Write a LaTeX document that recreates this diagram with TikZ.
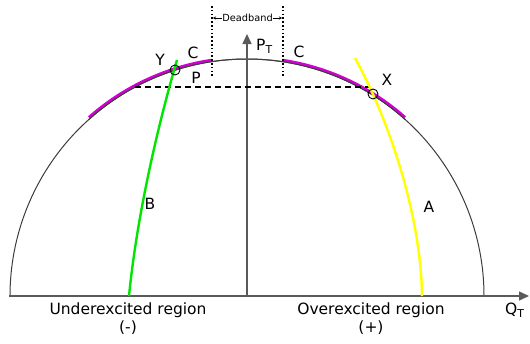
\documentclass[tikz,border=0pt]{standalone}
\usepackage{fontspec}
\setmainfont{DejaVu Sans}
\usetikzlibrary{arrows.meta}
\definecolor{axisgray}{RGB}{90,90,90}
\definecolor{arcgray}{RGB}{60,60,60}
\definecolor{cmag}{RGB}{210,0,210}
\definecolor{cgreen}{RGB}{0,230,0}
\definecolor{cyellow}{RGB}{255,255,0}
\tikzset{
  axisline/.style={draw=axisgray, line width=1.4pt, -{Triangle[length=10pt,width=9pt]}},
  arcline/.style={draw=arcgray, line width=1pt},
  magline/.style={draw=cmag, line width=2.6pt},
  curveline/.style={line width=2.4pt},
  dotline/.style={draw=black, line width=1.5pt, dash pattern=on 1.5pt off 2.3pt},
  dashline/.style={draw=black, line width=1.1pt, dash pattern=on 6pt off 4pt},
  lbl/.style={font=\fontsize{15.5}{17}\selectfont, inner sep=0pt},
  smalllbl/.style={font=\fontsize{9.8}{11}\selectfont, inner sep=0.5pt},
  ring/.style={draw=black, line width=0.9pt, circle, minimum size=10pt, inner sep=0pt},
}
\begin{document}
\begin{tikzpicture}[x=1pt,y=-1pt]
\useasboundingbox (0,0) rectangle (530,343);
% coordinates
\coordinate (O) at (247,296);
\coordinate (L) at (9,296);
\coordinate (R) at (529,296);
\coordinate (T) at (247,34);
% semicircle
\draw[arcline] plot[domain=0:180,samples=181] ({247+237*cos(\x)},{296-237*sin(\x)});
% magenta segments
\draw[magline] plot[domain=98.5:131.5,samples=40] ({247+238.6*cos(\x)},{296-238.6*sin(\x)});
\draw[magline] plot[domain=48.5:81.5,samples=40] ({247+238.6*cos(\x)},{296-238.6*sin(\x)});
\draw[arcline] plot[domain=48:132,samples=85] ({247+237*cos(\x)},{296-237*sin(\x)});
% axes
\draw[axisline] (L) -- (R);
\draw[axisline] (O) -- (T);
% dashed line
\coordinate (dl) at (135,87);
\coordinate (dr) at (370,87);
\draw[dashline] (dl) -- (dr);
% dotted deadband lines
\coordinate (d1t) at (212,6);
\coordinate (d1b) at (212,78);
\coordinate (d2t) at (283,6);
\coordinate (d2b) at (283,78);
\draw[dotline] (d1t) -- (d1b);
\draw[dotline] (d2t) -- (d2b);
\node[smalllbl] (db) at (247.5,18) {Deadband};
\coordinate (dbl) at (213,18);
\coordinate (dbr) at (282,18);
\draw[line width=0.6pt,-{Stealth[length=3pt,width=3pt]}] (db.west) -- (dbl);
\draw[line width=0.6pt,-{Stealth[length=3pt,width=3pt]}] (db.east) -- (dbr);
% green curve B
\coordinate (g0) at (129,296);
\coordinate (g1) at (177,60);
\draw[curveline, draw=cgreen] (g0) .. controls (137,215) and (158,125) .. (g1);
% yellow curve A
\coordinate (y0) at (355,58);
\coordinate (y1) at (422,296);
\draw[curveline, draw=cyellow] (y0) .. controls (389,120) and (421,215) .. (y1);
% rings
\node[ring] (Yr) at (175,70) {};
\node[ring] (Xr) at (373,94) {};
% labels
\node[lbl] (Ylab) at (160,60) {Y};
\node[lbl] (C1) at (193,53) {C};
\node[lbl] (Plab) at (196,78) {P};
\node[lbl] (C2) at (299,52) {C};
\node[lbl] (Xlab) at (387,80) {X};
\node[lbl] (Alab) at (429,207) {A};
\node[lbl] (Blab) at (150,204) {B};
\node[lbl, anchor=west] (PT) at (256,46) {P\textsubscript{T}};
\node[lbl, anchor=west] (QT) at (505,310) {Q\textsubscript{T}};
\node[lbl] (U1) at (128,310) {Underexcited region};
\node[lbl] (U2) at (128,328) {(-)};
\node[lbl] (O1) at (371,310) {Overexcited region};
\node[lbl] (O2) at (371,328) {(+)};
\end{tikzpicture}
\end{document}
